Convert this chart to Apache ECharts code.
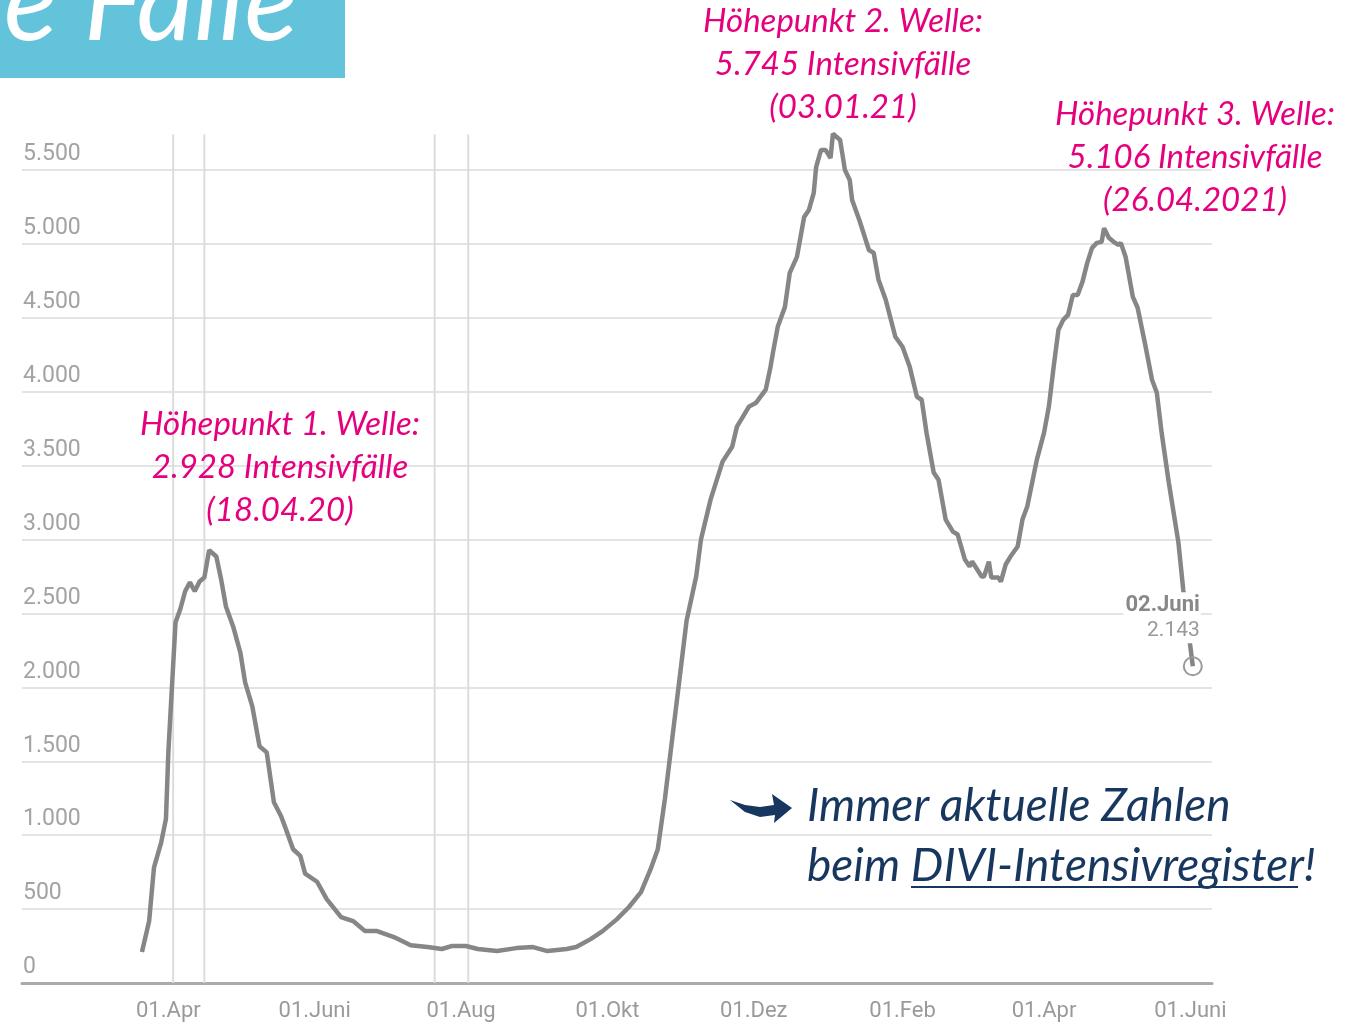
<!DOCTYPE html>
<html><head><meta charset="utf-8">
<script src="https://cdn.jsdelivr.net/npm/echarts@6/dist/echarts.min.js"></script>
<style>html,body{margin:0;padding:0;background:#fff}#c{width:1365px;height:1027px}</style>
</head><body><div id="c"></div>
<script>
const dates = ['2020-03-21','2020-03-24','2020-03-26','2020-03-29','2020-03-31',
'2020-04-01','2020-04-03','2020-04-04','2020-04-06','2020-04-08','2020-04-10','2020-04-12','2020-04-14','2020-04-16','2020-04-18','2020-04-21','2020-04-23','2020-04-25','2020-04-28',
'2020-05-01','2020-05-03','2020-05-06','2020-05-09','2020-05-12','2020-05-15','2020-05-18','2020-05-20','2020-05-23','2020-05-26','2020-05-28',
'2020-06-02','2020-06-06','2020-06-12','2020-06-17','2020-06-22','2020-06-27',
'2020-07-04','2020-07-11','2020-07-18','2020-07-24','2020-07-28',
'2020-08-03','2020-08-08','2020-08-16','2020-08-24','2020-08-31',
'2020-09-06','2020-09-14','2020-09-18','2020-09-24','2020-09-29',
'2020-10-05','2020-10-10','2020-10-15','2020-10-19','2020-10-22','2020-10-25','2020-10-28','2020-10-31',
'2020-11-03','2020-11-07','2020-11-09','2020-11-13','2020-11-18','2020-11-22','2020-11-24','2020-11-29',
'2020-12-02','2020-12-06','2020-12-08','2020-12-09','2020-12-11','2020-12-14','2020-12-16','2020-12-19','2020-12-22','2020-12-24','2020-12-26','2020-12-27','2020-12-29','2020-12-31',
'2021-01-02','2021-01-03','2021-01-06','2021-01-08','2021-01-10','2021-01-11','2021-01-14','2021-01-18','2021-01-20','2021-01-22','2021-01-25','2021-01-29',
'2021-02-01','2021-02-04','2021-02-07','2021-02-09','2021-02-11','2021-02-14','2021-02-16','2021-02-19','2021-02-22','2021-02-24','2021-02-27',
'2021-03-01','2021-03-02','2021-03-06','2021-03-07','2021-03-09','2021-03-10','2021-03-13','2021-03-14','2021-03-16','2021-03-18','2021-03-21','2021-03-23','2021-03-25','2021-03-29',
'2021-04-01','2021-04-03','2021-04-05','2021-04-07','2021-04-09','2021-04-11','2021-04-13','2021-04-15','2021-04-17','2021-04-19','2021-04-21','2021-04-23','2021-04-25','2021-04-26','2021-04-28','2021-04-30',
'2021-05-02','2021-05-03','2021-05-05','2021-05-08','2021-05-10','2021-05-13','2021-05-16','2021-05-18','2021-05-20','2021-05-23','2021-05-25','2021-05-27','2021-05-29',
'2021-06-02'];
const values = [210,420,780,950,1110,
1560,2150,2440,2530,2650,2710,2650,2716,2743,2928,2885,2730,2547,2412,
2236,2034,1872,1601,1560,1223,1128,1041,905,860,740,
685,568,446,419,351,351,
311,255,243,230,250,
250,230,216,236,243,
216,230,243,297,351,
432,514,615,770,905,1250,1650,2050,
2450,2750,3000,3270,3527,3628,3764,3899,
3926,4014,4169,4264,4439,4574,4804,4912,5182,5230,5345,5520,5635,5635,
5581,5745,5703,5500,5432,5297,5162,4959,4939,4757,4622,4372,
4304,4169,3966,3946,3723,3453,3405,3135,3054,3034,2865,
2818,2851,2750,2750,2851,2743,2743,2716,2831,2885,2953,3135,3223,3541,
3723,3899,4169,4419,4486,4520,4655,4655,4743,4872,4973,5007,5014,5106,5041,5014,
4993,5007,4912,4642,4568,4331,4081,3993,3723,3385,3182,2980,2662,
2143];
const tickDates = ['2020-04-01','2020-06-01','2020-08-01','2020-10-01','2020-12-01','2021-02-01','2021-04-01','2021-06-01'];
const tickLabels = ['01.Apr','01.Juni','01.Aug','01.Okt','01.Dez','01.Feb','01.Apr','01.Juni'];
const markerDates = ['2020-04-03','2020-04-16','2020-07-21','2020-08-04'];
const markerTop = 5740;
const peakTexts = [
  'Höhepunkt 1. Welle:\n2.928 Intensivfälle\n(18.04.20)',
  'Höhepunkt 2. Welle:\n5.745 Intensivfälle\n(03.01.21)',
  'Höhepunkt 3. Welle:\n5.106 Intensivfälle\n(26.04.2021)'
];
const lastLabel = '02.Juni';

const fmtDE = v => String(v).replace(/\B(?=(\d{3})+(?!\d))/g, '.');
const ts = d => { const p = d.split('-').map(Number); return Date.UTC(p[0], p[1] - 1, p[2]); };
const tickTimes = tickDates.map(ts);
const data = dates.map((d, i) => [ts(d), values[i]]);
const last = data[data.length - 1];

const chart = echarts.init(document.getElementById('c'), null, {renderer: 'canvas'});
const PINK = '#e5007d', NAVY = '#17375e';
const annFont = {fontFamily: 'Lato', fontStyle: 'italic', fontSize: 33, lineHeight: 43, fill: PINK, align: 'center', verticalAlign: 'top'};

const markerSeries = markerDates.map(d => ({
  type: 'line', silent: true, showSymbol: false, clip: false, z: 1,
  data: [[ts(d), 0], [ts(d), markerTop]],
  lineStyle: {color: '#dcdcdc', width: 2}
}));

chart.setOption({
  animation: false,
  backgroundColor: '#fff',
  grid: {left: 22, right: 153, top: 170, bottom: 44},
  xAxis: {
    type: 'value',
    min: ts('2020-01-31'), max: ts('2021-06-10'),
    axisLine: {show: true, lineStyle: {color: '#aaaaaa', width: 3}},
    axisTick: {show: false},
    splitLine: {show: false},
    axisLabel: {
      customValues: tickTimes,
      formatter: v => { const i = tickTimes.indexOf(+v); return i >= 0 ? tickLabels[i] : ''; },
      fontFamily: 'Roboto', fontSize: 22, color: '#9a9a9a', margin: 17
    }
  },
  yAxis: {
    type: 'value', min: 0, max: 5500, interval: 500,
    axisLine: {show: false}, axisTick: {show: false},
    splitLine: {lineStyle: {color: '#e4e4e4', width: 2}},
    axisLabel: {
      inside: true, margin: 1, verticalAlign: 'bottom', padding: [0, 0, 4, 0],
      formatter: v => fmtDE(v),
      fontFamily: 'Roboto', fontSize: 23, color: '#a3a3a3'
    }
  },
  series: markerSeries.concat([{
    type: 'line', data: data, showSymbol: false, clip: false, z: 3,
    lineStyle: {color: '#868686', width: 4.5},
    markPoint: {
      silent: true, z: 5,
      data: [{coord: last}],
      symbol: 'circle', symbolSize: 18,
      itemStyle: {color: 'rgba(255,255,255,0)', borderColor: '#9a9a9a', borderWidth: 2},
      label: {
        show: true, position: 'top', distance: 13, offset: [8, 0], align: 'right',
        backgroundColor: '#fff', padding: [0, 1, 0, 2],
        formatter: () => '{a|' + lastLabel + '}\n{b|' + fmtDE(last[1]) + '}',
        rich: {
          a: {fontFamily: 'Roboto', fontWeight: 'bold', fontSize: 22, color: '#888', lineHeight: 26, align: 'right'},
          b: {fontFamily: 'Roboto', fontSize: 21, color: '#999', lineHeight: 25, align: 'right'}
        }
      }
    }
  }]),
  graphic: [
    {type: 'rect', shape: {x: 0, y: 0, width: 345, height: 78}, style: {fill: '#62c3db'}, z: 10},
    {type: 'text', x: 298, y: 60, z: 11, style: {text: 'Intensive Fälle', fontFamily: 'Lato', fontStyle: 'italic', fontSize: 112, fill: '#fff', align: 'right', verticalAlign: 'bottom'}},
    {type: 'text', x: 280, y: 403, z: 11, style: Object.assign({text: peakTexts[0]}, annFont)},
    {type: 'text', x: 843, y: 0, z: 11, style: Object.assign({text: peakTexts[1]}, annFont)},
    {type: 'text', x: 1195, y: 93, z: 11, style: Object.assign({text: peakTexts[2]}, annFont)},
    {type: 'polygon', z: 11, shape: {points: [[730,800],[745,805],[760,807],[774,805],[772,794],[792,808],[774,823],[775,815],[760,817],[745,812]]}, style: {fill: NAVY}},
    {type: 'text', x: 807, y: 776, z: 11, style: {text: 'Immer aktuelle Zahlen\nbeim DIVI-Intensivregister!', fontFamily: 'Lato', fontStyle: 'italic', fontSize: 46, lineHeight: 60, fill: NAVY, align: 'left', verticalAlign: 'top'}},
    {type: 'line', z: 11, shape: {x1: 911, y1: 887, x2: 1298, y2: 887}, style: {stroke: NAVY, lineWidth: 2}}
  ]
});
</script></body></html>
